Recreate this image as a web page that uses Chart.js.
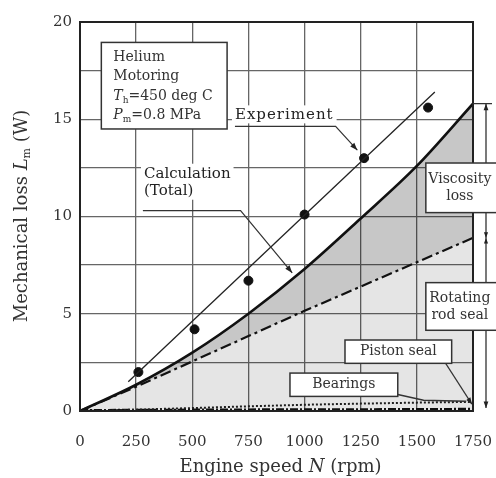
<!DOCTYPE html>
<html>
<head>
<meta charset="utf-8">
<script src="https://cdn.jsdelivr.net/npm/chart.js@4.4.1/dist/chart.umd.min.js"></script>
<style>
  html, body { margin: 0; padding: 0; background: #fff; }
  canvas { display: block; }
</style>
</head>
<body>
<canvas id="c" width="496" height="478"></canvas>
<script>
// Engine speed grid used by the calculated curves (rpm)
const speeds = [0, 250, 500, 750, 1000, 1250, 1500, 1750];
// Calculated total mechanical loss (W)
const totalLoss = [0, 1.35, 3.0, 5.0, 7.3, 9.9, 12.6, 15.8];
// Calculated loss without viscosity loss: rod seal + piston seal + bearings (W)
const sealLoss = [0, 1.25, 2.55, 3.85, 5.15, 6.4, 7.65, 8.9];
// Bearing loss (W)
const bearingLoss = [0, 0.07, 0.15, 0.24, 0.32, 0.38, 0.43, 0.47];
// Piston seal loss (W)
const pistonSealLoss = [0.04, 0.05, 0.06, 0.07, 0.08, 0.08, 0.09, 0.1];
// Measured points
const expSpeeds = [260, 510, 750, 1000, 1265, 1550];
const expLoss = [2.0, 4.2, 6.7, 10.1, 13.0, 15.6];
// Straight fit through the measurements
const fitSpeeds = [215, 1580];
const fitLoss = [1.5, 16.4];
// Axis ticks
const xTicks = [0, 250, 500, 750, 1000, 1250, 1500, 1750];
const yTicks = [0, 5, 10, 15, 20];

const FONT = '"DejaVu Serif", serif';
const pts = (xs, ys) => xs.map((x, i) => ({ x, y: ys[i] }));

function arrowHead(ctx, x1, y1, x2, y2, size) {
  const a = Math.atan2(y2 - y1, x2 - x1);
  ctx.beginPath();
  ctx.moveTo(x2, y2);
  ctx.lineTo(x2 - size * Math.cos(a - 0.35), y2 - size * Math.sin(a - 0.35));
  ctx.lineTo(x2 - size * Math.cos(a + 0.35), y2 - size * Math.sin(a + 0.35));
  ctx.closePath();
  ctx.fill();
}

function whiteBox(ctx, x, y, w, h, border) {
  ctx.fillStyle = '#fff';
  ctx.fillRect(x, y, w, h);
  if (border) {
    ctx.strokeStyle = '#333';
    ctx.lineWidth = 1.5;
    ctx.strokeRect(x, y, w, h);
  }
}

// Drawn text with mixed italic / subscript runs
function richText(ctx, runs, x, y, size) {
  let cx = x;
  for (const r of runs) {
    const s = r.sub ? Math.round(size * 0.62) : size;
    ctx.font = (r.it ? 'italic ' : '') + s + 'px ' + FONT;
    ctx.fillText(r.t, cx, y + (r.sub ? size * 0.3 : 0));
    cx += ctx.measureText(r.t).width;
  }
  return cx - x;
}
function richWidth(ctx, runs, size) {
  let w = 0;
  for (const r of runs) {
    const s = r.sub ? Math.round(size * 0.62) : size;
    ctx.font = (r.it ? 'italic ' : '') + s + 'px ' + FONT;
    w += ctx.measureText(r.t).width;
  }
  return w;
}

const overlay = {
  id: 'overlay',
  afterDatasetsDraw(chart) {
    const ctx = chart.ctx;
    const xs = chart.scales.x, ys = chart.scales.y;
    const X = v => xs.getPixelForValue(v), Y = v => ys.getPixelForValue(v);
    const a = chart.chartArea;
    ctx.save();
    ctx.textBaseline = 'middle';
    ctx.fillStyle = '#222';
    ctx.strokeStyle = '#222';

    // plot frame
    ctx.lineWidth = 2;
    ctx.strokeRect(a.left, a.top, a.right - a.left, a.bottom - a.top);

    // condition box
    const bx = X(95), by = Y(18.95), bw = X(655) - bx, bh = Y(14.5) - by;
    whiteBox(ctx, bx, by, bw, bh, true);
    ctx.fillStyle = '#333';
    ctx.textAlign = 'left';
    const tx = bx + 12;
    richText(ctx, [{ t: 'Helium' }], tx, by + 15, 14);
    richText(ctx, [{ t: 'Motoring' }], tx, by + 34, 14);
    richText(ctx, [{ t: 'T', it: true }, { t: 'h', sub: true }, { t: '=450 deg C' }], tx, by + 54, 14);
    richText(ctx, [{ t: 'P', it: true }, { t: 'm', sub: true }, { t: '=0.8 MPa' }], tx, by + 73, 14);

    // "Experiment" label with leader to a measured point
    ctx.font = '15px ' + FONT;
    ctx.letterSpacing = '1px';
    const ew = ctx.measureText('Experiment').width;
    const ex = X(690), ey = Y(15.2);
    whiteBox(ctx, ex - 3, ey - 10, ew + 6, 18, false);
    ctx.fillStyle = '#222';
    ctx.fillText('Experiment', ex, ey);
    ctx.letterSpacing = '0px';
    ctx.lineWidth = 1.2;
    ctx.beginPath();
    ctx.moveTo(ex, ey + 11);
    ctx.lineTo(ex + ew + 2, ey + 11);
    ctx.lineTo(X(1235), Y(13.1) - 6);
    ctx.stroke();
    arrowHead(ctx, ex + ew + 2, ey + 11, X(1235), Y(13.1) - 6, 8);

    // "Calculation (Total)" label with leader to the total curve
    ctx.font = '15px ' + FONT;
    const cx = X(285), cy = Y(12.2);
    const cw = ctx.measureText('Calculation').width;
    whiteBox(ctx, cx - 3, cy - 10, cw + 6, 36, false);
    ctx.fillStyle = '#222';
    ctx.fillText('Calculation', cx, cy);
    ctx.fillText('(Total)', cx, cy + 17);
    ctx.beginPath();
    ctx.moveTo(X(280), Y(10.3));
    ctx.lineTo(X(715), Y(10.3));
    ctx.lineTo(X(945), Y(7.1));
    ctx.stroke();
    arrowHead(ctx, X(715), Y(10.3), X(945), Y(7.1), 8);

    // dimension line on the right
    const dx = a.right + 13;
    ctx.lineWidth = 1.3;
    ctx.beginPath();
    ctx.moveTo(a.right, Y(15.8)); ctx.lineTo(a.right + 19, Y(15.8));
    ctx.moveTo(dx, Y(15.8)); ctx.lineTo(dx, Y(0.15));
    ctx.stroke();
    arrowHead(ctx, dx, Y(14), dx, Y(15.8), 7);
    arrowHead(ctx, dx, Y(12), dx, Y(8.9), 6);
    arrowHead(ctx, dx, Y(6), dx, Y(8.9), 6);
    arrowHead(ctx, dx, Y(3), dx, Y(0.15), 7);

    // right-side boxes
    ctx.textAlign = 'center';
    ctx.font = '14px ' + FONT;
    let vx = X(1540), vy = Y(12.75);
    whiteBox(ctx, vx, vy, 80, Y(10.2) - vy, true);
    ctx.fillStyle = '#333';
    ctx.fillText('Viscosity', vx + 34, vy + 16);
    ctx.fillText('loss', vx + 34, vy + 33);

    let rx = X(1540), ry = Y(6.6);
    whiteBox(ctx, rx, ry, 80, Y(4.15) - ry, true);
    ctx.fillStyle = '#333';
    ctx.fillText('Rotating', rx + 34, ry + 16);
    ctx.fillText('rod seal', rx + 34, ry + 33);

    // piston seal label + leader
    const px0 = X(1180), py0 = Y(3.65), pw = X(1655) - px0, ph = Y(2.45) - py0;
    ctx.lineWidth = 1.2;
    ctx.strokeStyle = '#333';
    ctx.beginPath();
    ctx.moveTo(px0 + pw - 6, py0 + ph);
    ctx.lineTo(X(1745), Y(0.35));
    ctx.stroke();
    ctx.fillStyle = '#222';
    arrowHead(ctx, px0 + pw - 6, py0 + ph, X(1745), Y(0.35), 7);
    whiteBox(ctx, px0, py0, pw, ph, true);
    ctx.fillStyle = '#333';
    ctx.fillText('Piston seal', px0 + pw / 2, py0 + ph / 2);

    // bearings label + leader
    const qx = X(935), qy = Y(1.95), qw = X(1415) - qx, qh = Y(0.75) - qy;
    ctx.beginPath();
    ctx.moveTo(qx + qw, qy + qh - 2);
    ctx.lineTo(X(1530), Y(0.55));
    ctx.lineTo(X(1720), Y(0.5));
    ctx.stroke();
    whiteBox(ctx, qx, qy, qw, qh, true);
    ctx.fillStyle = '#333';
    ctx.fillText('Bearings', qx + qw / 2, qy + qh / 2);

    // axis titles
    ctx.fillStyle = '#333';
    ctx.textAlign = 'left';
    const xr = [{ t: 'Engine speed ' }, { t: 'N', it: true }, { t: ' (rpm)' }];
    const xw = richWidth(ctx, xr, 18);
    richText(ctx, xr, (a.left + a.right) / 2 - xw / 2 + 4, 467, 18);

    const yr = [{ t: 'Mechanical loss ' }, { t: 'L', it: true }, { t: 'm', sub: true }, { t: ' (W)' }];
    const yw = richWidth(ctx, yr, 18);
    ctx.translate(22, 216);
    ctx.rotate(-Math.PI / 2);
    richText(ctx, yr, -yw / 2, 0, 18);
    ctx.restore();
  }
};

new Chart(document.getElementById('c'), {
  type: 'line',
  data: {
    datasets: [
      {
        label: 'Seal + bearing loss',
        data: pts(speeds, sealLoss),
        borderColor: '#111',
        borderWidth: 2.2,
        borderDash: [11, 4, 3, 4],
        backgroundColor: 'rgba(0,0,0,0.10)',
        fill: 'origin',
        pointRadius: 0,
        tension: 0
      },
      {
        label: 'Calculation (Total)',
        data: pts(speeds, totalLoss),
        borderColor: '#111',
        borderWidth: 2.6,
        backgroundColor: 'rgba(0,0,0,0.22)',
        fill: '-1',
        pointRadius: 0,
        cubicInterpolationMode: 'monotone'
      },
      {
        label: 'Bearings',
        data: pts(speeds, bearingLoss),
        borderColor: '#222',
        borderWidth: 2,
        borderDash: [2, 2],
        fill: false,
        pointRadius: 0
      },
      {
        label: 'Piston seal',
        data: pts(speeds, pistonSealLoss),
        borderColor: '#111',
        borderWidth: 2.5,
        borderDash: [8, 2, 2, 2],
        fill: false,
        pointRadius: 0
      },
      {
        label: 'Experiment fit',
        data: pts(fitSpeeds, fitLoss),
        borderColor: '#222',
        borderWidth: 1.3,
        fill: false,
        pointRadius: 0
      },
      {
        label: 'Experiment',
        type: 'scatter',
        data: pts(expSpeeds, expLoss),
        backgroundColor: '#111',
        borderColor: '#111',
        pointRadius: 4.5
      }
    ]
  },
  options: {
    responsive: false,
    animation: false,
    devicePixelRatio: 1,
    layout: { padding: { left: 0, right: 23, top: 22, bottom: 0 } },
    plugins: { legend: { display: false }, tooltip: { enabled: false } },
    scales: {
      x: {
        type: 'linear',
        min: 0, max: 1750,
        afterFit: s => { s.height = 67; },
        afterBuildTicks: s => { s.ticks = xTicks.map(v => ({ value: v })); },
        grid: { color: '#666', lineWidth: 1.3, drawTicks: true, tickLength: 20, tickColor: 'rgba(0,0,0,0)' },
        border: { display: false },
        ticks: {
          padding: 2, color: '#333', font: { family: 'DejaVu Serif', size: 15 }, maxRotation: 0,
          callback: v => String(v)
        }
      },
      y: {
        type: 'linear',
        min: 0, max: 20,
        afterFit: s => { s.width = 80; },
        ticks: {
          stepSize: 2.5,
          padding: 2,
          color: '#333',
          font: { family: 'DejaVu Serif', size: 15 },
          callback: v => (yTicks.includes(v) ? String(v) : '')
        },
        grid: { color: '#666', lineWidth: 1.3, drawTicks: true, tickLength: 6, tickColor: 'rgba(0,0,0,0)' },
        border: { display: false }
      }
    }
  },
  plugins: [overlay]
});
</script>
</body>
</html>
